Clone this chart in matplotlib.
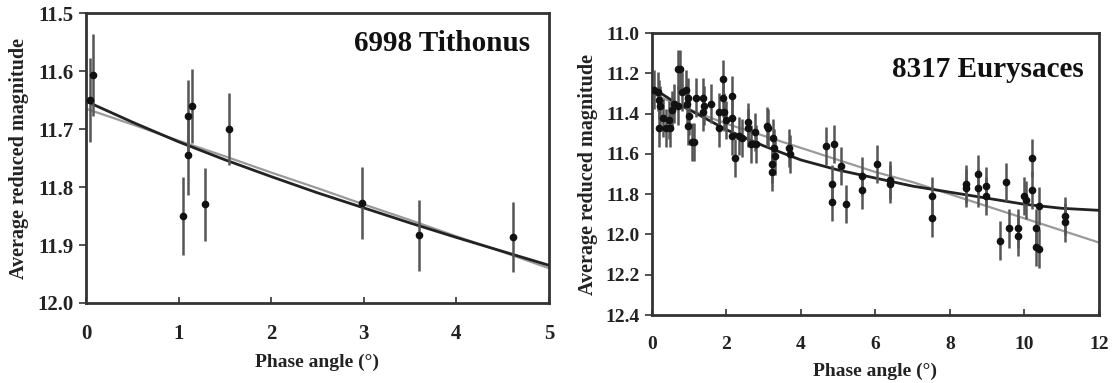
import matplotlib
matplotlib.use("Agg")
import matplotlib.pyplot as plt

# 6998 Tithonus: observed points
tit_phase = [0.04, 0.08, 1.05, 1.10, 1.10, 1.15, 1.29, 1.54, 2.98, 3.60, 4.61]
tit_mag = [11.650, 11.607, 11.850, 11.678, 11.745, 11.660, 11.830, 11.700, 11.828, 11.883, 11.886]
tit_err = [0.073, 0.071, 0.068, 0.062, 0.069, 0.064, 0.063, 0.062, 0.062, 0.061, 0.060]

# 6998 Tithonus: fitted curves
tit_fit_x = [0, 0.5, 1, 1.5, 2, 2.5, 3, 3.5, 4, 4.5, 5]
tit_fit_black = [11.652, 11.688, 11.722, 11.753, 11.782, 11.810, 11.836, 11.862, 11.887, 11.911, 11.935]
tit_fit_gray = [11.665, 11.692, 11.720, 11.747, 11.775, 11.802, 11.830, 11.857, 11.885, 11.912, 11.940]

# 8317 Eurysaces: observed points
eur_phase = [0.06, 0.15, 0.20, 0.22, 0.20, 0.29, 0.38, 0.46, 0.49, 0.55,
             0.60, 0.70, 0.75, 0.70, 0.80, 0.91, 0.94, 0.96, 0.98, 1.00,
             1.07, 1.12, 1.18, 1.36, 1.38, 1.39, 1.58, 1.80, 1.80, 1.92,
             1.92, 1.94, 2.00, 2.14, 2.15, 2.16, 2.23, 2.34, 2.43, 2.57,
             2.58, 2.65, 2.76, 2.79, 3.10, 3.12, 3.21, 3.21, 3.26, 3.28,
             3.30, 3.68, 3.70, 4.66, 4.84, 4.84, 4.89, 5.08, 5.21, 5.64,
             5.64, 6.05, 6.38, 6.38, 7.52, 7.52, 8.42, 8.42, 8.75, 8.75,
             8.97, 8.97, 9.35, 9.51, 9.59, 9.82, 9.82, 10.00, 10.03, 10.21,
             10.21, 10.30, 10.30, 10.39, 10.39, 11.09, 11.09]
eur_mag = [11.28, 11.29, 11.33, 11.36, 11.47, 11.42, 11.47, 11.43, 11.47, 11.38,
           11.35, 11.18, 11.18, 11.36, 11.29, 11.28, 11.35, 11.32, 11.46, 11.41,
           11.54, 11.54, 11.32, 11.32, 11.39, 11.36, 11.35, 11.39, 11.47, 11.23,
           11.32, 11.39, 11.43, 11.31, 11.42, 11.51, 11.62, 11.51, 11.52, 11.47,
           11.44, 11.55, 11.49, 11.55, 11.46, 11.47, 11.65, 11.69, 11.52, 11.57,
           11.61, 11.57, 11.60, 11.56, 11.75, 11.84, 11.55, 11.66, 11.85, 11.71,
           11.78, 11.65, 11.73, 11.75, 11.81, 11.92, 11.75, 11.77, 11.70, 11.77,
           11.76, 11.81, 12.03, 11.74, 11.97, 11.97, 12.01, 11.81, 11.83, 11.62,
           11.78, 11.97, 12.06, 12.07, 11.86, 11.91, 11.94]
eur_err = 0.095

# 8317 Eurysaces: fitted curves
eur_fit_x = [0, 0.5, 1, 2, 3, 4, 5, 6, 7, 8, 9, 10, 11, 12]
eur_fit_black = [11.27, 11.33, 11.38, 11.48, 11.56, 11.63, 11.68, 11.72, 11.76, 11.79, 11.82, 11.85, 11.87, 11.88]
eur_fit_gray = [11.30, 11.34, 11.38, 11.45, 11.51, 11.57, 11.63, 11.69, 11.74, 11.80, 11.86, 11.92, 11.98, 12.04]

SERIF = ["Liberation Serif", "DejaVu Serif"]
plt.rcParams["font.family"] = SERIF
plt.rcParams["font.weight"] = "bold"
plt.rcParams["axes.labelweight"] = "bold"

fig = plt.figure(figsize=(11.12, 3.83), dpi=100)
ax1 = fig.add_axes([0.0773, 0.2089, 0.4164, 0.757])
ax2 = fig.add_axes([0.5863, 0.1775, 0.402, 0.736])


def style_axes(ax, xlim, ylim, xticks, yticks, ylabels, ticksize):
    ax.set_xlim(*xlim)
    ax.set_ylim(*ylim)
    ax.set_xticks(xticks)
    ax.set_yticks(yticks)
    ax.set_yticklabels(ylabels)
    for s in ax.spines.values():
        s.set_linewidth(2.0)
        s.set_color("#333333")
    ax.tick_params(axis="x", direction="in", length=4, width=1.2, colors="#333333",
                   labelsize=ticksize, pad=15, labelcolor="#222222")
    ax.tick_params(axis="y", direction="out", length=5, width=1.2, colors="#333333",
                   labelsize=ticksize, pad=4, labelcolor="#222222")
    for lbl in ax.get_xticklabels() + ax.get_yticklabels():
        lbl.set_fontweight("bold")
    ax.set_xlabel("Phase angle (\u00b0)", fontsize=14, color="#222222", labelpad=7)
    ax.set_ylabel("Average reduced magnitude", fontsize=14.5, color="#222222")


# left panel
ax1.plot(tit_fit_x, tit_fit_gray, color="#9a9a9a", lw=1.6, zorder=2)
ax1.plot(tit_fit_x, tit_fit_black, color="#222222", lw=2.0, zorder=3)
ax1.errorbar(tit_phase, tit_mag, yerr=tit_err, fmt="o", color="#111111", ms=4.5,
             ecolor="#555555", elinewidth=1.8, capsize=0, zorder=4)
style_axes(ax1, (0, 5), (12.0, 11.5), range(0, 6), [11.5, 11.6, 11.7, 11.8, 11.9, 12.0],
           ["11.5", "11.6", "11.7", "11.8", "11.9", "12.0"], 15)
ax1.yaxis.labelpad = 6
ax1.text(0.96, 0.895, "6998 Tithonus", transform=ax1.transAxes, ha="right", va="center",
         fontsize=21, fontweight="bold", color="#111111")

# right panel
ax2.plot(eur_fit_x, eur_fit_gray, color="#9a9a9a", lw=1.6, zorder=2)
ax2.plot(eur_fit_x, eur_fit_black, color="#222222", lw=2.0, zorder=3)
ax2.errorbar(eur_phase, eur_mag, yerr=eur_err, fmt="o", color="#111111", ms=4.5,
             ecolor="#555555", elinewidth=1.8, capsize=0, zorder=4)
style_axes(ax2, (0, 12), (12.4, 11.0), range(0, 13, 2),
           [11.0, 11.2, 11.4, 11.6, 11.8, 12.0, 12.2, 12.4],
           ["11.0", "11.2", "11.4", "11.6", "11.8", "12.0", "12.2", "12.4"], 14)
ax2.yaxis.labelpad = 5
ax2.text(0.965, 0.87, "8317 Eurysaces", transform=ax2.transAxes, ha="right", va="center",
         fontsize=21, fontweight="bold", color="#111111")

fig.savefig("out.png", dpi=100)
